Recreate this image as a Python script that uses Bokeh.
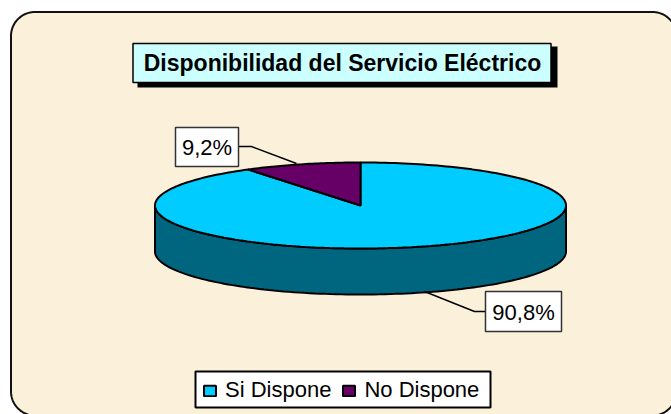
import numpy as np
from bokeh.plotting import figure
from bokeh.models import Range1d, Legend, LegendItem
from bokeh.core.properties import value
from bokeh.embed import file_html
from bokeh.resources import INLINE

title_text = "Disponibilidad del Servicio Eléctrico"
categories = ["Si Dispone", "No Dispone"]
percent = [90.8, 9.2]
labels = ["90,8%", "9,2%"]

FONT = "Liberation Sans"
CX, CY, RX, RY, DEPTH = 360, 205, 205.5, 43, 46

p = figure(width=671, height=414, output_backend="svg", toolbar_location=None,
           x_range=Range1d(0, 671), y_range=Range1d(414, 0),
           min_border=0, outline_line_color=None, background_fill_color="white",
           border_fill_color="white")
p.axis.visible = False
p.grid.visible = False

# rounded panel
L, T, R, B, r = 10.5, 11.5, 676, 415, 24
a = np.linspace(0, np.pi / 2, 24)
px = np.concatenate([R - r + r * np.sin(a), R - r + r * np.cos(a), L + r - r * np.sin(a), L + r - r * np.cos(a)])
py = np.concatenate([T + r - r * np.cos(a), B - r + r * np.sin(a), B - r + r * np.cos(a), T + r - r * np.sin(a)])
p.patch(px, py, fill_color="#FBF0DA", line_color="#111111", line_width=2)

def ell(t):
    return CX - RX * np.sin(t), CY - RY * np.cos(t)

sweep = percent[1] / 100 * 2 * np.pi

# side wall
t_front = np.linspace(np.pi / 2, 3 * np.pi / 2, 120)
fx, fy = ell(t_front)
p.patch(np.concatenate([fx, fx[::-1]]), np.concatenate([fy, fy[::-1] + DEPTH]),
        fill_color="#006680", line_color="black", line_width=2)

# top: blue slice
t_big = np.linspace(sweep, 2 * np.pi, 240)
bx, by = ell(t_big)
big = p.patch(np.concatenate([[CX], bx]), np.concatenate([[CY], by]),
              fill_color="#00CCFF", line_color="black", line_width=2)
# top: purple slice
t_small = np.linspace(0, sweep, 40)
sx, sy = ell(t_small)
small = p.patch(np.concatenate([[CX], sx]), np.concatenate([[CY], sy]),
                fill_color="#660066", line_color="black", line_width=2)

# title box
p.quad(left=[137], right=[557], top=[46], bottom=[87], fill_color="black", line_color=None)
p.quad(left=[132.5], right=[550.5], top=[43], bottom=[82], fill_color="#CCFFFF", line_color="black", line_width=1.5)
p.text([342], [62], text=[title_text], text_font=value(FONT), text_font_style="bold",
       text_font_size="23px", text_align="center", text_baseline="middle", text_color="black")

# leader lines
p.line([238, 251, 296], [146, 146, 163], line_color="black", line_width=1.5)
p.line([424, 474, 485], [291, 311, 311], line_color="black", line_width=1.5)

# data labels
p.quad(left=[175, 485], right=[238, 561], top=[127, 291], bottom=[166, 331],
       fill_color="white", line_color="#333333", line_width=1.5)
p.text([206.5, 523], [147, 311.5], text=[labels[1], labels[0]], text_font=value(FONT),
       text_font_size="22px", text_align="center", text_baseline="middle", text_color="black")

# legend frame
p.quad(left=[195], right=[490], top=[371], bottom=[407], fill_color="white", line_color="black", line_width=2)

legend = Legend(items=[LegendItem(label=categories[0], renderers=[big]),
                       LegendItem(label=categories[1], renderers=[small])],
                orientation="horizontal", location=(202, 11),
                label_text_font=FONT, label_text_font_size="22px", label_text_color="black",
                border_line_color=None, background_fill_alpha=0,
                glyph_width=15, glyph_height=13, padding=8, spacing=10,
                margin=0, label_standoff=8, label_height=20)
p.add_layout(legend, "center")

open("out.html", "w").write(file_html(p, INLINE))
